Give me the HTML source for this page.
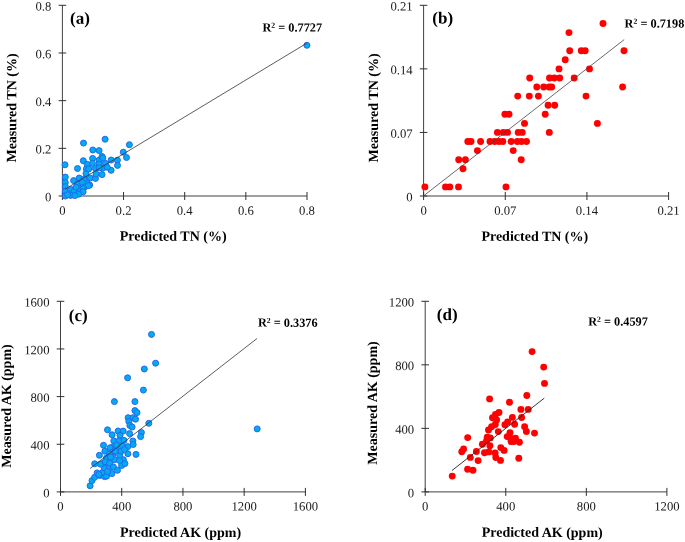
<!DOCTYPE html><html><head><meta charset="utf-8"><style>html,body{margin:0;padding:0;background:#fff;}svg{display:block;will-change:transform;}text{font-family:"Liberation Serif",serif;}</style></head><body>
<svg width="685" height="542" viewBox="0 0 685 542">
<rect width="685" height="542" fill="#fff"/>
<path d="M62.4 5.3V196H307" fill="none" stroke="#404040" stroke-width="1"/>
<path d="M62.4 192v8M123.55 192v8M184.7 192v8M245.85 192v8M307 192v8M58.6 196h7.6M58.6 148.32h7.6M58.6 100.65h7.6M58.6 52.98h7.6M58.6 5.3h7.6" stroke="#303030" stroke-width="1"/>
<text x="62.4" y="214.7" font-size="12.7" text-anchor="middle" fill="#1a1a1a" transform="rotate(0.1 62.4 214.7)">0</text>
<text x="123.55" y="214.7" font-size="12.7" text-anchor="middle" fill="#1a1a1a" transform="rotate(0.1 123.55 214.7)">0.2</text>
<text x="184.7" y="214.7" font-size="12.7" text-anchor="middle" fill="#1a1a1a" transform="rotate(0.1 184.7 214.7)">0.4</text>
<text x="245.85" y="214.7" font-size="12.7" text-anchor="middle" fill="#1a1a1a" transform="rotate(0.1 245.85 214.7)">0.6</text>
<text x="307" y="214.7" font-size="12.7" text-anchor="middle" fill="#1a1a1a" transform="rotate(0.1 307 214.7)">0.8</text>
<text x="51.4" y="201.3" font-size="12.7" text-anchor="end" fill="#1a1a1a" transform="rotate(0.1 51.4 201.3)">0</text>
<text x="51.4" y="153.62" font-size="12.7" text-anchor="end" fill="#1a1a1a" transform="rotate(0.1 51.4 153.62)">0.2</text>
<text x="51.4" y="105.95" font-size="12.7" text-anchor="end" fill="#1a1a1a" transform="rotate(0.1 51.4 105.95)">0.4</text>
<text x="51.4" y="58.28" font-size="12.7" text-anchor="end" fill="#1a1a1a" transform="rotate(0.1 51.4 58.28)">0.6</text>
<text x="51.4" y="10.6" font-size="12.7" text-anchor="end" fill="#1a1a1a" transform="rotate(0.1 51.4 10.6)">0.8</text>
<path d="M423.6 5.3V196H668.6" fill="none" stroke="#404040" stroke-width="1"/>
<path d="M423.6 192v8M505.27 192v8M586.93 192v8M668.6 192v8M419.8 196h7.6M419.8 132.43h7.6M419.8 68.87h7.6M419.8 5.3h7.6" stroke="#303030" stroke-width="1"/>
<text x="423.6" y="214.7" font-size="12.7" text-anchor="middle" fill="#1a1a1a" transform="rotate(0.1 423.6 214.7)">0</text>
<text x="505.27" y="214.7" font-size="12.7" text-anchor="middle" fill="#1a1a1a" transform="rotate(0.1 505.27 214.7)">0.07</text>
<text x="586.93" y="214.7" font-size="12.7" text-anchor="middle" fill="#1a1a1a" transform="rotate(0.1 586.93 214.7)">0.14</text>
<text x="668.6" y="214.7" font-size="12.7" text-anchor="middle" fill="#1a1a1a" transform="rotate(0.1 668.6 214.7)">0.21</text>
<text x="412.6" y="201.3" font-size="12.7" text-anchor="end" fill="#1a1a1a" transform="rotate(0.1 412.6 201.3)">0</text>
<text x="412.6" y="137.73" font-size="12.7" text-anchor="end" fill="#1a1a1a" transform="rotate(0.1 412.6 137.73)">0.07</text>
<text x="412.6" y="74.17" font-size="12.7" text-anchor="end" fill="#1a1a1a" transform="rotate(0.1 412.6 74.17)">0.14</text>
<text x="412.6" y="10.6" font-size="12.7" text-anchor="end" fill="#1a1a1a" transform="rotate(0.1 412.6 10.6)">0.21</text>
<path d="M60.5 301.3V491.9H305.4" fill="none" stroke="#404040" stroke-width="1"/>
<path d="M60.5 487.9v8M121.72 487.9v8M182.95 487.9v8M244.17 487.9v8M305.4 487.9v8M56.7 491.9h7.6M56.7 444.25h7.6M56.7 396.6h7.6M56.7 348.95h7.6M56.7 301.3h7.6" stroke="#303030" stroke-width="1"/>
<text x="60.5" y="510.6" font-size="12.7" text-anchor="middle" fill="#1a1a1a" transform="rotate(0.1 60.5 510.6)">0</text>
<text x="121.72" y="510.6" font-size="12.7" text-anchor="middle" fill="#1a1a1a" transform="rotate(0.1 121.72 510.6)">400</text>
<text x="182.95" y="510.6" font-size="12.7" text-anchor="middle" fill="#1a1a1a" transform="rotate(0.1 182.95 510.6)">800</text>
<text x="244.17" y="510.6" font-size="12.7" text-anchor="middle" fill="#1a1a1a" transform="rotate(0.1 244.17 510.6)">1200</text>
<text x="305.4" y="510.6" font-size="12.7" text-anchor="middle" fill="#1a1a1a" transform="rotate(0.1 305.4 510.6)">1600</text>
<text x="49.5" y="497.2" font-size="12.7" text-anchor="end" fill="#1a1a1a" transform="rotate(0.1 49.5 497.2)">0</text>
<text x="49.5" y="449.55" font-size="12.7" text-anchor="end" fill="#1a1a1a" transform="rotate(0.1 49.5 449.55)">400</text>
<text x="49.5" y="401.9" font-size="12.7" text-anchor="end" fill="#1a1a1a" transform="rotate(0.1 49.5 401.9)">800</text>
<text x="49.5" y="354.25" font-size="12.7" text-anchor="end" fill="#1a1a1a" transform="rotate(0.1 49.5 354.25)">1200</text>
<text x="49.5" y="306.6" font-size="12.7" text-anchor="end" fill="#1a1a1a" transform="rotate(0.1 49.5 306.6)">1600</text>
<path d="M425.2 301.3V491.9H666.9" fill="none" stroke="#404040" stroke-width="1"/>
<path d="M425.2 487.9v8M505.77 487.9v8M586.33 487.9v8M666.9 487.9v8M421.4 491.9h7.6M421.4 428.37h7.6M421.4 364.83h7.6M421.4 301.3h7.6" stroke="#303030" stroke-width="1"/>
<text x="425.2" y="510.6" font-size="12.7" text-anchor="middle" fill="#1a1a1a" transform="rotate(0.1 425.2 510.6)">0</text>
<text x="505.77" y="510.6" font-size="12.7" text-anchor="middle" fill="#1a1a1a" transform="rotate(0.1 505.77 510.6)">400</text>
<text x="586.33" y="510.6" font-size="12.7" text-anchor="middle" fill="#1a1a1a" transform="rotate(0.1 586.33 510.6)">800</text>
<text x="666.9" y="510.6" font-size="12.7" text-anchor="middle" fill="#1a1a1a" transform="rotate(0.1 666.9 510.6)">1200</text>
<text x="414.2" y="497.2" font-size="12.7" text-anchor="end" fill="#1a1a1a" transform="rotate(0.1 414.2 497.2)">0</text>
<text x="414.2" y="433.67" font-size="12.7" text-anchor="end" fill="#1a1a1a" transform="rotate(0.1 414.2 433.67)">400</text>
<text x="414.2" y="370.13" font-size="12.7" text-anchor="end" fill="#1a1a1a" transform="rotate(0.1 414.2 370.13)">800</text>
<text x="414.2" y="306.6" font-size="12.7" text-anchor="end" fill="#1a1a1a" transform="rotate(0.1 414.2 306.6)">1200</text>
<text transform="rotate(0.1 173.2 240.7)" x="173.2" y="240.7" font-size="14" text-anchor="middle" font-weight="bold" fill="#000">Predicted TN (%)</text>
<text transform="rotate(0.1 534.8 240.9)" x="534.8" y="240.9" font-size="14" text-anchor="middle" font-weight="bold" fill="#000">Predicted TN (%)</text>
<text transform="rotate(0.1 180.6 536.9)" x="180.6" y="536.9" font-size="14" text-anchor="middle" font-weight="bold" fill="#000">Predicted AK (ppm)</text>
<text transform="rotate(0.1 542.2 536.9)" x="542.2" y="536.9" font-size="14" text-anchor="middle" font-weight="bold" fill="#000">Predicted AK (ppm)</text>
<text transform="translate(16.2 108) rotate(-89.9)" font-size="14" text-anchor="middle" font-weight="bold" fill="#000">Measured TN (%)</text>
<text transform="translate(378 108) rotate(-89.9)" font-size="14" text-anchor="middle" font-weight="bold" fill="#000">Measured TN (%)</text>
<text transform="translate(11 406) rotate(-89.9)" font-size="14" text-anchor="middle" font-weight="bold" fill="#000">Measured AK (ppm)</text>
<text transform="translate(377 403) rotate(-89.9)" font-size="14" text-anchor="middle" font-weight="bold" fill="#000">Measured AK (ppm)</text>
<text transform="rotate(0.1 70.1 23.7)" x="70.1" y="23.7" font-size="17" font-weight="bold" fill="#000">(a)</text>
<text transform="rotate(0.1 432.3 23.5)" x="432.3" y="23.5" font-size="17" font-weight="bold" fill="#000">(b)</text>
<text transform="rotate(0.1 68.8 321)" x="68.8" y="321" font-size="17" font-weight="bold" fill="#000">(c)</text>
<text transform="rotate(0.1 436.8 320)" x="436.8" y="320" font-size="17" font-weight="bold" fill="#000">(d)</text>
<text x="262.4" y="31.4" transform="rotate(0.1 262.4 31.4)" font-size="12.3" font-weight="bold" fill="#000">R<tspan font-size="7.7" dy="-3.7">2</tspan><tspan dy="3.7"> = 0.7727</tspan></text>
<text x="624.6" y="27.4" transform="rotate(0.1 624.6 27.4)" font-size="12.3" font-weight="bold" fill="#000">R<tspan font-size="7.7" dy="-3.7">2</tspan><tspan dy="3.7"> = 0.7198</tspan></text>
<text x="257.9" y="326.6" transform="rotate(0.1 257.9 326.6)" font-size="12.3" font-weight="bold" fill="#000">R<tspan font-size="7.7" dy="-3.7">2</tspan><tspan dy="3.7"> = 0.3376</tspan></text>
<text x="588.2" y="325.5" transform="rotate(0.1 588.2 325.5)" font-size="12.3" font-weight="bold" fill="#000">R<tspan font-size="7.7" dy="-3.7">2</tspan><tspan dy="3.7"> = 0.4597</tspan></text>
<g fill="#00abf0" stroke="#2468ee" stroke-width="1.0"><circle cx="83.5" cy="143.1" r="3.0"/><circle cx="92.8" cy="150" r="3.0"/><circle cx="99.1" cy="150.6" r="3.0"/><circle cx="105.1" cy="139.2" r="3.0"/><circle cx="129.4" cy="144.7" r="3.0"/><circle cx="123.3" cy="152.2" r="3.0"/><circle cx="126.5" cy="157.5" r="3.0"/><circle cx="92.6" cy="158.4" r="3.0"/><circle cx="99" cy="160.2" r="3.0"/><circle cx="102" cy="156.5" r="3.0"/><circle cx="111.2" cy="160" r="3.0"/><circle cx="117.4" cy="160.2" r="3.0"/><circle cx="117.5" cy="165.4" r="3.0"/><circle cx="92.4" cy="163.4" r="3.0"/><circle cx="105.4" cy="163.3" r="3.0"/><circle cx="95.4" cy="168.3" r="3.0"/><circle cx="102.7" cy="168.3" r="3.0"/><circle cx="111.1" cy="170.3" r="3.0"/><circle cx="65" cy="164.8" r="3.0"/><circle cx="77.5" cy="168.5" r="3.0"/><circle cx="83.3" cy="160.7" r="3.0"/><circle cx="87.2" cy="164.4" r="3.0"/><circle cx="86.4" cy="168.9" r="3.0"/><circle cx="65.3" cy="177.1" r="3.0"/><circle cx="65.3" cy="182.6" r="3.0"/><circle cx="65.3" cy="186.6" r="3.0"/><circle cx="65.3" cy="191.3" r="3.0"/><circle cx="65.3" cy="196" r="3.0"/><circle cx="73.6" cy="180.6" r="3.0"/><circle cx="79.2" cy="178" r="3.0"/><circle cx="86" cy="173.6" r="3.0"/><circle cx="90.4" cy="178" r="3.0"/><circle cx="95.5" cy="178.4" r="3.0"/><circle cx="77.5" cy="184" r="3.0"/><circle cx="83" cy="180.5" r="3.0"/><circle cx="86.8" cy="182.6" r="3.0"/><circle cx="89.7" cy="185" r="3.0"/><circle cx="71.3" cy="189.5" r="3.0"/><circle cx="74.2" cy="191" r="3.0"/><circle cx="80.2" cy="190.6" r="3.0"/><circle cx="83.1" cy="186.6" r="3.0"/><circle cx="70.5" cy="195.4" r="3.0"/><circle cx="67.6" cy="194.7" r="3.0"/><circle cx="102.8" cy="158" r="3.0"/><circle cx="99.1" cy="164.2" r="3.0"/><circle cx="107.2" cy="167.2" r="3.0"/><circle cx="102" cy="174.6" r="3.0"/><circle cx="96" cy="174" r="3.0"/><circle cx="88.7" cy="169" r="3.0"/><circle cx="84.2" cy="179.2" r="3.0"/><circle cx="82.4" cy="182.5" r="3.0"/><circle cx="84.8" cy="186.9" r="3.0"/><circle cx="88.4" cy="185.7" r="3.0"/><circle cx="83.1" cy="188.5" r="3.0"/><circle cx="83.1" cy="191.8" r="3.0"/><circle cx="99.2" cy="167.8" r="3.0"/><circle cx="306.9" cy="45.3" r="3.0"/><circle cx="76" cy="187.2" r="3.0"/><circle cx="78.6" cy="194.2" r="3.0"/><circle cx="74.8" cy="195.6" r="3.0"/></g>
<g fill="#ff0000" stroke="none" stroke-width="0"><circle cx="424.9" cy="186.9" r="3.45"/><circle cx="445.5" cy="186.9" r="3.45"/><circle cx="449.8" cy="186.9" r="3.45"/><circle cx="458.5" cy="186.9" r="3.45"/><circle cx="506" cy="186.9" r="3.45"/><circle cx="463" cy="168.8" r="3.45"/><circle cx="458.7" cy="159.7" r="3.45"/><circle cx="465.4" cy="159.7" r="3.45"/><circle cx="521.2" cy="159.7" r="3.45"/><circle cx="477.4" cy="150.6" r="3.45"/><circle cx="513.2" cy="150.6" r="3.45"/><circle cx="467.8" cy="141.5" r="3.45"/><circle cx="471" cy="141.5" r="3.45"/><circle cx="480.6" cy="141.5" r="3.45"/><circle cx="490" cy="141.5" r="3.45"/><circle cx="494.7" cy="141.5" r="3.45"/><circle cx="499" cy="141.5" r="3.45"/><circle cx="502.8" cy="141.5" r="3.45"/><circle cx="511.1" cy="141.5" r="3.45"/><circle cx="517.3" cy="141.5" r="3.45"/><circle cx="521.5" cy="141.5" r="3.45"/><circle cx="526.5" cy="141.5" r="3.45"/><circle cx="497.4" cy="132.4" r="3.45"/><circle cx="503.3" cy="132.4" r="3.45"/><circle cx="507.5" cy="132.4" r="3.45"/><circle cx="518.2" cy="132.4" r="3.45"/><circle cx="522.2" cy="132.4" r="3.45"/><circle cx="549.3" cy="132.4" r="3.45"/><circle cx="524.5" cy="123.4" r="3.45"/><circle cx="597.4" cy="123.4" r="3.45"/><circle cx="504.9" cy="114.3" r="3.45"/><circle cx="509" cy="114.3" r="3.45"/><circle cx="545.2" cy="114.3" r="3.45"/><circle cx="548.1" cy="105.2" r="3.45"/><circle cx="554.7" cy="105.2" r="3.45"/><circle cx="517.7" cy="96.1" r="3.45"/><circle cx="529.3" cy="96.1" r="3.45"/><circle cx="538.4" cy="96.1" r="3.45"/><circle cx="586" cy="96.1" r="3.45"/><circle cx="536.8" cy="87" r="3.45"/><circle cx="543.7" cy="87" r="3.45"/><circle cx="549.1" cy="87" r="3.45"/><circle cx="551.7" cy="87" r="3.45"/><circle cx="622.6" cy="87" r="3.45"/><circle cx="529.7" cy="78" r="3.45"/><circle cx="549.5" cy="78" r="3.45"/><circle cx="554.3" cy="78" r="3.45"/><circle cx="559.7" cy="78" r="3.45"/><circle cx="574.2" cy="78" r="3.45"/><circle cx="559" cy="68.9" r="3.45"/><circle cx="589.5" cy="68.9" r="3.45"/><circle cx="565.2" cy="59.8" r="3.45"/><circle cx="569.7" cy="50.7" r="3.45"/><circle cx="581.3" cy="50.7" r="3.45"/><circle cx="585.2" cy="50.7" r="3.45"/><circle cx="624" cy="50.7" r="3.45"/><circle cx="569" cy="32.6" r="3.45"/><circle cx="603" cy="23.5" r="3.45"/></g>
<g fill="#00abf0" stroke="#2468ee" stroke-width="1.0"><circle cx="151.5" cy="334.4" r="3.0"/><circle cx="155.6" cy="363.2" r="3.0"/><circle cx="144.3" cy="369" r="3.0"/><circle cx="127.6" cy="377.8" r="3.0"/><circle cx="143.4" cy="390.1" r="3.0"/><circle cx="114.4" cy="401.6" r="3.0"/><circle cx="134.9" cy="401.6" r="3.0"/><circle cx="134.9" cy="410.6" r="3.0"/><circle cx="137" cy="412.6" r="3.0"/><circle cx="128.1" cy="417.7" r="3.0"/><circle cx="132.9" cy="417.7" r="3.0"/><circle cx="135.5" cy="419.2" r="3.0"/><circle cx="128.8" cy="421.4" r="3.0"/><circle cx="129.9" cy="425.5" r="3.0"/><circle cx="132.1" cy="427" r="3.0"/><circle cx="148.8" cy="423.3" r="3.0"/><circle cx="118.1" cy="431" r="3.0"/><circle cx="123.2" cy="431.1" r="3.0"/><circle cx="129.6" cy="433.6" r="3.0"/><circle cx="141.4" cy="432.5" r="3.0"/><circle cx="140.6" cy="436.6" r="3.0"/><circle cx="112.1" cy="434.8" r="3.0"/><circle cx="120" cy="435.4" r="3.0"/><circle cx="113.8" cy="440.9" r="3.0"/><circle cx="118.9" cy="440.9" r="3.0"/><circle cx="124" cy="440.4" r="3.0"/><circle cx="132.9" cy="441" r="3.0"/><circle cx="133.2" cy="444.5" r="3.0"/><circle cx="127.8" cy="446.6" r="3.0"/><circle cx="122.4" cy="446.2" r="3.0"/><circle cx="113" cy="446.9" r="3.0"/><circle cx="107.5" cy="429.8" r="3.0"/><circle cx="103.5" cy="445.3" r="3.0"/><circle cx="110.1" cy="447.8" r="3.0"/><circle cx="104.9" cy="451.2" r="3.0"/><circle cx="116" cy="448.6" r="3.0"/><circle cx="99.4" cy="455.3" r="3.0"/><circle cx="106.4" cy="458.2" r="3.0"/><circle cx="113" cy="454.2" r="3.0"/><circle cx="119.7" cy="455.3" r="3.0"/><circle cx="114.5" cy="459.7" r="3.0"/><circle cx="94.7" cy="463.8" r="3.0"/><circle cx="102.7" cy="463.4" r="3.0"/><circle cx="123.4" cy="459.7" r="3.0"/><circle cx="90.1" cy="485.8" r="3.0"/><circle cx="92" cy="480.6" r="3.0"/><circle cx="94.6" cy="477.3" r="3.0"/><circle cx="97.1" cy="472.9" r="3.0"/><circle cx="99.7" cy="475.5" r="3.0"/><circle cx="104.5" cy="476.6" r="3.0"/><circle cx="103" cy="472.1" r="3.0"/><circle cx="104.5" cy="468.1" r="3.0"/><circle cx="109" cy="467.7" r="3.0"/><circle cx="111.9" cy="473.6" r="3.0"/><circle cx="100.5" cy="464.2" r="3.0"/><circle cx="105.3" cy="461.8" r="3.0"/><circle cx="112.6" cy="452.2" r="3.0"/><circle cx="109.7" cy="463.3" r="3.0"/><circle cx="113.4" cy="467" r="3.0"/><circle cx="136" cy="454.4" r="3.0"/><circle cx="127.9" cy="453.7" r="3.0"/><circle cx="115.3" cy="451.1" r="3.0"/><circle cx="121.2" cy="451.1" r="3.0"/><circle cx="121.6" cy="465.5" r="3.0"/><circle cx="124.9" cy="463.6" r="3.0"/><circle cx="117.5" cy="470.3" r="3.0"/><circle cx="106.5" cy="476.2" r="3.0"/><circle cx="257.2" cy="428.9" r="3.0"/><circle cx="107.5" cy="471.5" r="3.0"/><circle cx="109.5" cy="454" r="3.0"/><circle cx="98.8" cy="474.5" r="3.0"/><circle cx="116.5" cy="445" r="3.0"/><circle cx="124.5" cy="449.5" r="3.0"/><circle cx="110.5" cy="457" r="3.0"/><circle cx="119.5" cy="460.5" r="3.0"/></g>
<g fill="#ff0000" stroke="none" stroke-width="0"><circle cx="452.2" cy="476.1" r="3.45"/><circle cx="467.6" cy="469.2" r="3.45"/><circle cx="473" cy="470.2" r="3.45"/><circle cx="467.7" cy="437.6" r="3.45"/><circle cx="463.6" cy="449" r="3.45"/><circle cx="461.8" cy="451.8" r="3.45"/><circle cx="470.3" cy="457.4" r="3.45"/><circle cx="476.4" cy="451.5" r="3.45"/><circle cx="478.1" cy="460.6" r="3.45"/><circle cx="482.4" cy="444.2" r="3.45"/><circle cx="484.5" cy="452.8" r="3.45"/><circle cx="487.2" cy="437.2" r="3.45"/><circle cx="490.3" cy="437.9" r="3.45"/><circle cx="489.9" cy="445.7" r="3.45"/><circle cx="488.8" cy="451.9" r="3.45"/><circle cx="495.1" cy="453" r="3.45"/><circle cx="495.8" cy="457.5" r="3.45"/><circle cx="500.5" cy="460.4" r="3.45"/><circle cx="500.8" cy="447.6" r="3.45"/><circle cx="504.1" cy="450.4" r="3.45"/><circle cx="488.5" cy="430" r="3.45"/><circle cx="491.6" cy="426.7" r="3.45"/><circle cx="495.3" cy="424.5" r="3.45"/><circle cx="496.6" cy="419.9" r="3.45"/><circle cx="492.5" cy="417.7" r="3.45"/><circle cx="495.5" cy="414.4" r="3.45"/><circle cx="499" cy="412.5" r="3.45"/><circle cx="498.3" cy="431.6" r="3.45"/><circle cx="504.9" cy="424.8" r="3.45"/><circle cx="507.6" cy="422" r="3.45"/><circle cx="512.4" cy="417.4" r="3.45"/><circle cx="514.6" cy="424.2" r="3.45"/><circle cx="507.2" cy="436.6" r="3.45"/><circle cx="510" cy="432.7" r="3.45"/><circle cx="511.1" cy="441.6" r="3.45"/><circle cx="515.5" cy="438.3" r="3.45"/><circle cx="519.4" cy="442.2" r="3.45"/><circle cx="513.8" cy="441.6" r="3.45"/><circle cx="489.6" cy="398.9" r="3.45"/><circle cx="509.5" cy="402.2" r="3.45"/><circle cx="520.9" cy="409.4" r="3.45"/><circle cx="528.2" cy="409.4" r="3.45"/><circle cx="521.6" cy="417.5" r="3.45"/><circle cx="524.6" cy="426.7" r="3.45"/><circle cx="526.4" cy="431.5" r="3.45"/><circle cx="534.5" cy="433.1" r="3.45"/><circle cx="526.8" cy="395.5" r="3.45"/><circle cx="532.1" cy="351.6" r="3.45"/><circle cx="543.7" cy="367.1" r="3.45"/><circle cx="544.5" cy="383.4" r="3.45"/><circle cx="518.8" cy="458.2" r="3.45"/><circle cx="486.5" cy="441" r="3.45"/><circle cx="510.5" cy="438.2" r="3.45"/></g>
<line x1="65.0" y1="189.2" x2="306.6" y2="43.3" stroke="#333" stroke-width="0.8"/>
<line x1="90.1" y1="468.5" x2="257.0" y2="338.5" stroke="#333" stroke-width="0.8"/>
<line x1="423.8" y1="195.7" x2="624.2" y2="39.6" stroke="#444" stroke-width="0.8"/>
<line x1="451.9" y1="470.6" x2="544.3" y2="398.1" stroke="#222" stroke-width="0.9"/>
</svg></body></html>
